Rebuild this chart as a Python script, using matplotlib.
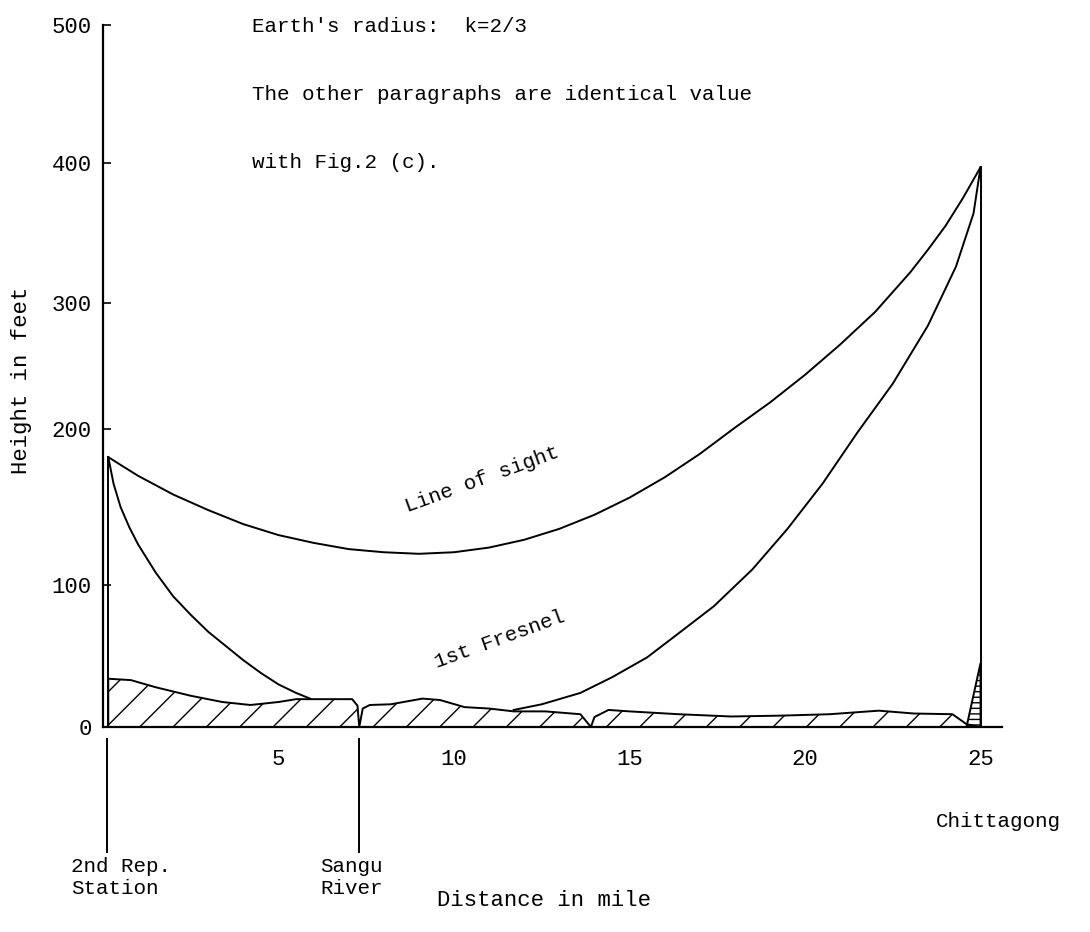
import numpy as np
import matplotlib
matplotlib.use('Agg')
import matplotlib.pyplot as plt

# values: distance in mile, height in feet
los_x = [0.15, 0.5, 1, 1.5, 2, 3, 4, 5, 6, 7, 8, 9, 10, 11, 12, 13, 14, 15, 16, 17, 18, 19, 20, 21,
         22, 23, 23.5, 24, 24.5, 25]
los_y = [182, 177, 170, 164, 158, 148, 139, 132, 127, 123, 121, 120, 121, 124, 129, 136, 145, 156, 169,
         184, 201, 221, 243, 267, 293, 322, 338, 355, 375, 397]

# 1st Fresnel lower edge (left part, then the part rising again to Chittagong)
fr1_x = [0.15, 0.3, 0.5, 0.75, 1, 1.5, 2, 2.5, 3, 3.5, 4, 4.5, 5, 5.5, 5.9]
fr1_y = [182, 165, 150, 137, 126, 108, 92, 79, 67, 57, 47, 38, 30, 24, 20]
fr2_x = [11.7, 12.5, 13.6, 14.5, 15.5, 16.4, 17.4, 18.5, 19.5, 20.5, 21.5, 22.5, 23.5, 24.3, 24.8, 25]
fr2_y = [12, 16, 24, 35, 49, 66, 85, 110, 136, 165, 198, 236, 282, 326, 364, 397]

# ground profile
ground_x = [0.15, 0.8, 1.5, 2.5, 3.4, 4.2, 5.0, 5.5, 6.3, 7.1, 7.25, 7.3, 7.4, 7.6, 8.2, 9.1, 9.6,
            10.3, 11.0, 11.7, 12.6, 13.6, 13.9, 14.0, 14.4, 15.0, 16.4, 17.9, 19.3, 20.7, 22.1,
            23.1, 24.2, 24.6, 25.0]
ground_y = [34, 33, 28, 22, 17.6, 15.5, 17.6, 19.6, 19.6, 19.6, 15, 0, 13, 15.5, 16, 20, 19,
            14, 13, 11, 11, 9, 0, 7, 12, 11, 9, 7.4, 8, 9, 11.5, 9.5, 9, 2, 0]
hill_x = [24.6, 25.0, 25.0]
hill_y = [0, 45, 0]

station_x = 0.15
station_h = 182
river_x = 7.3
end_x = 25.0
end_h = 397

x_ticks = [5, 10, 15, 20, 25]
y_ticks = [0, 100, 200, 300, 400, 500]
# the hand drawn height scale is not evenly spaced (pixel height of each tick)
y_tick_pos = [0, 142, 298, 424, 564, 702]


def fwd(v):
    return np.interp(v, [-100] + y_ticks + [600], [-142] + y_tick_pos + [840])


def inv(v):
    return np.interp(v, [-142] + y_tick_pos + [840], [-100] + y_ticks + [600])


plt.rcParams['font.family'] = 'Liberation Mono'
plt.rcParams['hatch.linewidth'] = 1.0
plt.rcParams['lines.solid_joinstyle'] = 'round'

W, H = 1090, 932
fig = plt.figure(figsize=(10.9, 9.32), dpi=100)
ax = fig.add_axes([103 / W, 1 - 727 / H, 898.6 / W, 702 / H])
ax.set_yscale('function', functions=(fwd, inv))
ax.set_xlim(0, 25.6)
ax.set_ylim(0, 500)

lw = 1.4
ax.fill_between(ground_x, 0, ground_y, facecolor='none', edgecolor='black', hatch='/', linewidth=lw)
ax.fill(hill_x, hill_y, facecolor='none', edgecolor='black', hatch='---', linewidth=lw)
ax.plot(los_x, los_y, color='black', lw=lw)
ax.plot(fr1_x, fr1_y, color='black', lw=lw)
ax.plot(fr2_x, fr2_y, color='black', lw=lw)
ax.plot([station_x, station_x], [0, station_h], color='black', lw=lw)
ax.plot([end_x, end_x], [0, end_h], color='black', lw=lw)

# marker lines below the distance axis
tr = ax.get_xaxis_transform()
ax.plot([0.1, 0.1], [-0.017, -0.178], color='black', lw=lw, transform=tr, clip_on=False)
ax.plot([river_x, river_x], [-0.017, -0.178], color='black', lw=lw, transform=tr, clip_on=False)

ax.spines['top'].set_visible(False)
ax.spines['right'].set_visible(False)
ax.spines['left'].set_linewidth(1.6)
ax.spines['bottom'].set_linewidth(1.6)

ax.set_xticks(x_ticks)
ax.set_yticks(y_ticks)
ax.minorticks_off()
ax.tick_params(axis='y', direction='in', length=6, width=1.2, labelsize=16, pad=8)
ax.tick_params(axis='x', length=0, labelsize=16, pad=16)

ax.text(10.8, 168, 'Line of sight', rotation=20, fontsize=15, ha='center', va='center')
ax.text(11.3, 62, '1st Fresnel', rotation=20, fontsize=15, ha='center', va='center')

ax.text(-0.9, -0.215, '2nd Rep.\nStation', transform=tr, fontsize=15, ha='left', va='center', linespacing=1.2)
ax.text(river_x - 1.1, -0.215, 'Sangu\nRiver', transform=tr, fontsize=15, ha='left', va='center', linespacing=1.2)
ax.text(25.5, -0.135, 'Chittagong', transform=tr, fontsize=15, ha='center', va='center')

fig.text(544 / W, 1 - 900 / H, 'Distance in mile', fontsize=16, ha='center', va='center')
fig.text(22 / W, 1 - 380 / H, 'Height in feet', fontsize=16, ha='center', va='center', rotation=90)

fig.text(252 / W, 1 - 27 / H, "Earth's radius:  k=2/3", fontsize=15, ha='left', va='center')
fig.text(252 / W, 1 - 95 / H, 'The other paragraphs are identical value', fontsize=15, ha='left', va='center')
fig.text(252 / W, 1 - 162 / H, 'with Fig.2 (c).', fontsize=15, ha='left', va='center')

fig.savefig('out.png', dpi=100, facecolor='white')
